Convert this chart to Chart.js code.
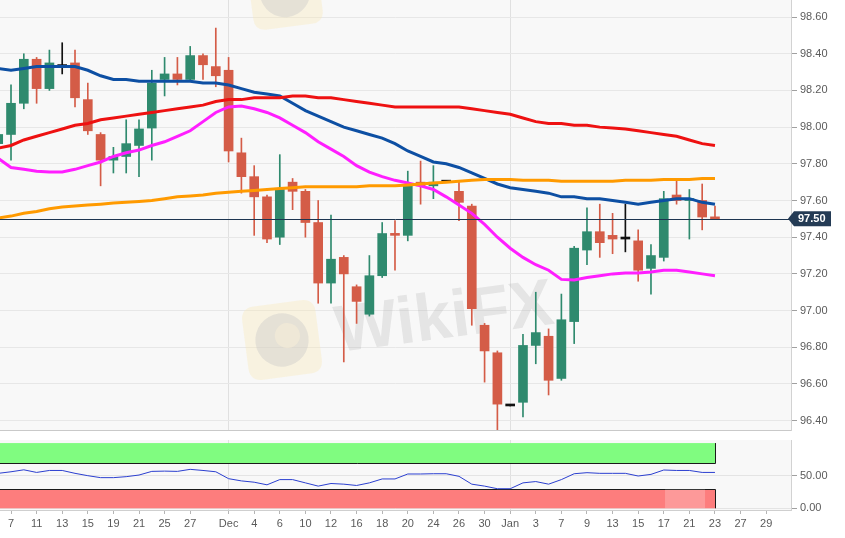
<!DOCTYPE html>
<html><head><meta charset="utf-8">
<script src="https://cdn.jsdelivr.net/npm/chart.js@4.4.1/dist/chart.umd.min.js"></script>
<style>
html,body{margin:0;padding:0;background:#fff;width:845px;height:538px;overflow:hidden}
#p1{position:absolute;left:0;top:0;width:845px;height:432px}
#p2{position:absolute;left:0;top:432px;width:845px;height:106px}
</style></head><body>
<div id="p1"><canvas id="c1"></canvas></div>
<div id="p2"><canvas id="c2"></canvas></div>
<script>
// ---------- DATA ----------
const dates = ['2019-11-06','2019-11-07','2019-11-08','2019-11-11','2019-11-12','2019-11-13','2019-11-14','2019-11-15',
'2019-11-18','2019-11-19','2019-11-20','2019-11-21','2019-11-22','2019-11-25','2019-11-26','2019-11-27','2019-11-28','2019-11-29',
'2019-12-02','2019-12-03','2019-12-04','2019-12-05','2019-12-06','2019-12-09','2019-12-10','2019-12-11','2019-12-12','2019-12-13',
'2019-12-16','2019-12-17','2019-12-18','2019-12-19','2019-12-20','2019-12-23','2019-12-24','2019-12-25','2019-12-26','2019-12-27',
'2019-12-30','2019-12-31','2020-01-01','2020-01-02','2020-01-03','2020-01-06','2020-01-07','2020-01-08','2020-01-09','2020-01-10',
'2020-01-13','2020-01-14','2020-01-15','2020-01-16','2020-01-17','2020-01-20','2020-01-21','2020-01-22','2020-01-23',
'2020-01-24','2020-01-27','2020-01-28','2020-01-29'];

const opens  = [97.91,97.96,98.13,98.37,98.21,98.33,98.35,98.15,97.96,97.82,97.84,97.90,97.995,98.26,98.29,98.26,98.39,98.33,98.31,97.86,97.73,97.62,97.40,97.70,97.65,97.48,97.15,97.29,97.13,96.98,97.19,97.42,97.41,97.70,97.68,97.70,97.65,97.57,96.92,96.77,96.48,96.50,96.81,96.86,96.63,96.94,97.33,97.43,97.41,97.39,97.38,97.23,97.29,97.63,97.60,97.60,97.51];
const highs  = [97.99,98.23,98.40,98.38,98.42,98.46,98.42,98.24,97.97,97.89,98.04,98.04,98.31,98.38,98.38,98.44,98.40,98.54,98.38,97.94,97.79,97.63,97.85,97.72,97.66,97.60,97.52,97.30,97.14,97.30,97.48,97.49,97.76,97.815,97.79,97.70,97.71,97.58,96.93,96.78,96.48,96.87,97.10,96.90,97.09,97.35,97.56,97.58,97.53,97.58,97.44,97.36,97.65,97.72,97.66,97.69,97.57];
const lows   = [97.88,97.82,98.10,98.13,98.20,98.29,98.11,97.96,97.68,97.75,97.75,97.73,97.82,98.17,98.23,98.25,98.26,98.22,97.81,97.64,97.41,97.37,97.36,97.55,97.40,97.04,97.04,96.72,96.93,96.97,97.18,97.22,97.38,97.58,97.61,97.70,97.49,96.92,96.61,96.35,96.48,96.42,96.71,96.54,96.62,96.82,97.25,97.29,97.31,97.32,97.16,97.09,97.27,97.58,97.39,97.44,97.50];
const closes = [97.96,98.13,98.37,98.21,98.35,98.33,98.16,97.98,97.82,97.84,97.91,97.99,98.24,98.29,98.26,98.39,98.34,98.28,97.87,97.73,97.62,97.39,97.66,97.65,97.48,97.15,97.28,97.20,97.05,97.19,97.42,97.41,97.68,97.68,97.70,97.70,97.59,97.01,96.78,96.49,96.48,96.81,96.88,96.62,96.95,97.34,97.43,97.37,97.39,97.39,97.22,97.30,97.61,97.60,97.61,97.51,97.50];

const ma20  = [97.83,97.78,97.77,97.76,97.755,97.755,97.77,97.79,97.81,97.84,97.86,97.875,97.90,97.92,97.95,97.98,98.03,98.08,98.11,98.115,98.10,98.08,98.05,98.01,97.97,97.92,97.88,97.84,97.79,97.755,97.73,97.71,97.695,97.68,97.66,97.62,97.575,97.53,97.47,97.40,97.34,97.29,97.25,97.22,97.17,97.167,97.18,97.19,97.20,97.205,97.205,97.21,97.22,97.22,97.21,97.20,97.19];
const ma50  = [98.32,98.31,98.32,98.33,98.33,98.33,98.33,98.31,98.28,98.26,98.26,98.25,98.25,98.25,98.25,98.25,98.24,98.24,98.23,98.21,98.19,98.18,98.17,98.13,98.09,98.06,98.03,98.00,97.98,97.96,97.94,97.91,97.87,97.84,97.81,97.80,97.78,97.75,97.72,97.69,97.67,97.66,97.65,97.64,97.62,97.62,97.61,97.61,97.60,97.59,97.58,97.59,97.60,97.61,97.61,97.59,97.58];
const ma100 = [97.886,97.90,97.93,97.95,97.97,97.99,98.01,98.02,98.04,98.05,98.06,98.07,98.08,98.09,98.10,98.11,98.12,98.14,98.15,98.15,98.16,98.16,98.16,98.17,98.17,98.16,98.16,98.15,98.14,98.13,98.12,98.11,98.11,98.11,98.11,98.11,98.11,98.10,98.09,98.08,98.07,98.05,98.03,98.02,98.02,98.01,98.01,98.00,97.995,97.99,97.98,97.97,97.96,97.95,97.93,97.91,97.90];
const ma200 = [97.505,97.515,97.53,97.54,97.555,97.565,97.57,97.575,97.58,97.586,97.59,97.595,97.60,97.61,97.62,97.625,97.63,97.64,97.645,97.65,97.655,97.66,97.665,97.67,97.675,97.675,97.675,97.675,97.675,97.68,97.68,97.68,97.685,97.69,97.695,97.70,97.705,97.71,97.715,97.715,97.715,97.71,97.71,97.71,97.705,97.705,97.705,97.705,97.705,97.71,97.71,97.71,97.715,97.715,97.715,97.72,97.72];
const rsi   = [53.6,56,59,55,58,58,53.6,50,47,47,48.5,51,56.6,57,56.6,59.7,58,56,45.4,42,40,36,44,44,39,34,38,37,35,39,45,45,52.6,52.6,53,53,49,37,34,30,30,39,41,37,44,53,54.6,53.6,53.6,53.6,49.5,52,58.7,58,58,55,55];

const priceTicks = [96.40,96.60,96.80,97.00,97.20,97.40,97.60,97.80,98.00,98.20,98.40,98.60];
const rsiTicks = [0, 50];
const rsiOverbought = 70, rsiOversold = 30, rsiTop = 100, rsiBottom = 0;
const tickDates = ['2019-11-07','2019-11-11','2019-11-13','2019-11-15','2019-11-19','2019-11-21','2019-11-25','2019-11-27',
'2019-12-02','2019-12-04','2019-12-06','2019-12-10','2019-12-12','2019-12-16','2019-12-18','2019-12-20','2019-12-24','2019-12-26','2019-12-30',
'2020-01-01','2020-01-03','2020-01-07','2020-01-09','2020-01-13','2020-01-15','2020-01-17','2020-01-21','2020-01-23','2020-01-27','2020-01-29'];
const tickLabels = ['7','11','13','15','19','21','25','27','Dec','4','6','10','12','16','18','20','24','26','30','Jan','3','7','9','13','15','17','21','23','27','29'];
const monthStarts = ['2019-12-02','2020-01-01'];

// ---------- VIEW ----------
const X_MIN = 0.14, X_MAX = 61.94;
const P_MIN = 96.349, P_MAX = 98.693;
const R_MIN = -2.6, R_MAX = 104.7;
const UP = '#2f8a6e', DOWN = '#d45c47', FLAT = '#111111';

Chart.defaults.font.family = "'Liberation Sans', Arial, sans-serif";
Chart.defaults.font.size = 11;
Chart.defaults.color = '#5a5a5a';

const candleColor = closes.map((c, i) => c > opens[i] ? UP : (c < opens[i] ? DOWN : FLAT));
const bodyData = closes.map((c, i) => ({x: i, y: [opens[i], c]}));
const wickData = closes.map((c, i) => ({x: i, y: [lows[i], highs[i]]}));
const lineData = arr => arr.map((v, i) => ({x: i, y: v}));
const monthIdx = monthStarts.map(d => dates.indexOf(d));
const tickIdx = tickDates.map(d => dates.indexOf(d));

const bgPlugin = {
  id: 'bg',
  beforeDraw(chart) {
    const {ctx, chartArea: a} = chart;
    ctx.save(); ctx.fillStyle = '#f8f8f8';
    ctx.fillRect(a.left, a.top, a.right - a.left, a.bottom - a.top);
    ctx.restore();
  }
};

function drawLogo(ctx, cx, cy, s, rot) {
  ctx.save();
  ctx.translate(cx, cy); ctx.rotate(rot);
  ctx.fillStyle = 'rgba(250,232,180,0.35)';
  const r = s * 0.18;
  ctx.beginPath();
  ctx.moveTo(-s/2 + r, -s/2); ctx.lineTo(s/2 - r, -s/2); ctx.quadraticCurveTo(s/2, -s/2, s/2, -s/2 + r);
  ctx.lineTo(s/2, s/2 - r); ctx.quadraticCurveTo(s/2, s/2, s/2 - r, s/2);
  ctx.lineTo(-s/2 + r, s/2); ctx.quadraticCurveTo(-s/2, s/2, -s/2, s/2 - r);
  ctx.lineTo(-s/2, -s/2 + r); ctx.quadraticCurveTo(-s/2, -s/2, -s/2 + r, -s/2);
  ctx.fill();
  ctx.fillStyle = 'rgba(200,200,200,0.4)';
  ctx.beginPath(); ctx.arc(0, 0, s * 0.36, 0, Math.PI * 2); ctx.fill();
  ctx.fillStyle = 'rgba(250,240,215,0.5)';
  ctx.beginPath(); ctx.arc(s*0.08, -s*0.05, s * 0.17, 0, Math.PI * 2); ctx.fill();
  ctx.restore();
}

const watermarkPlugin = {
  id: 'wm',
  beforeDatasetsDraw(chart) {
    const ctx = chart.ctx;
    drawLogo(ctx, 282, 340, 74, -0.13);
    drawLogo(ctx, 285, -8, 70, -0.13);
    ctx.save();
    ctx.translate(338, 352); ctx.rotate(-0.13);
    ctx.font = "bold 66px 'Liberation Sans', Arial, sans-serif";
    ctx.fillStyle = 'rgba(170,170,170,0.25)';
    ctx.fillText('WikiFX', 0, 0);
    ctx.restore();
  }
};

const priceLinePlugin = {
  id: 'pl',
  afterDatasetsDraw(chart) {
    const {ctx, chartArea: a, scales: {y}} = chart;
    const py = Math.round(y.getPixelForValue(closes[closes.length - 1])) + 0.5;
    ctx.save();
    ctx.strokeStyle = '#1d3550'; ctx.lineWidth = 1;
    ctx.beginPath(); ctx.moveTo(a.left, py); ctx.lineTo(a.right, py); ctx.stroke();
    ctx.restore();
  },
  afterDraw(chart) {
    const {ctx, chartArea: a, scales: {y}} = chart;
    const py = y.getPixelForValue(closes[closes.length - 1]);
    ctx.save();
    ctx.fillStyle = '#243b55';
    ctx.beginPath();
    ctx.moveTo(a.right - 3, py);
    ctx.lineTo(a.right + 3, py - 7.5);
    ctx.lineTo(a.right + 40, py - 7.5);
    ctx.lineTo(a.right + 40, py + 7.5);
    ctx.lineTo(a.right + 3, py + 7.5);
    ctx.closePath(); ctx.fill();
    ctx.fillStyle = '#ffffff';
    ctx.font = "bold 11px 'Liberation Sans', Arial, sans-serif";
    ctx.textBaseline = 'middle'; ctx.textAlign = 'left';
    ctx.fillText(closes[closes.length - 1].toFixed(2), a.right + 7, py + 0.5);
    ctx.restore();
  }
};

const bandPlugin = {
  id: 'bands',
  beforeDatasetsDraw(chart) {
    const {ctx, chartArea: a, scales: {x, y}} = chart;
    const xr = Math.round(x.getPixelForValue(closes.length - 1)) + 0.5;
    const yTop = y.getPixelForValue(rsiTop), yOb = Math.round(y.getPixelForValue(rsiOverbought)) + 0.5;
    const yOs = Math.round(y.getPixelForValue(rsiOversold)) + 0.5, yBot = y.getPixelForValue(rsiBottom);
    ctx.save();
    ctx.fillStyle = '#80fc80';
    ctx.fillRect(a.left, yTop, xr - a.left, yOb - yTop);
    ctx.fillStyle = '#fd7d7d';
    ctx.fillRect(a.left, yOs, xr - a.left, yBot - yOs);
    ctx.strokeStyle = '#1a1a1a'; ctx.lineWidth = 1;
    ctx.beginPath();
    ctx.moveTo(a.left, yOb); ctx.lineTo(xr, yOb); ctx.lineTo(xr, yTop);
    ctx.moveTo(a.left, yOs); ctx.lineTo(xr, yOs); ctx.lineTo(xr, yBot);
    ctx.stroke();
    ctx.fillStyle = 'rgba(255,255,255,0.22)';
    ctx.fillRect(x.getPixelForValue(52.1), y.getPixelForValue(29), 40, y.getPixelForValue(0) - y.getPixelForValue(29));
    ctx.restore();
  }
};

const fitY = s => { s.width = 54; s.paddingTop = 0; s.paddingBottom = 0; };

new Chart(document.getElementById('c1'), {
  data: {
    datasets: [
      {type: 'line', data: lineData(ma200), borderColor: '#ff9a00', borderWidth: 3, pointRadius: 0, order: 0},
      {type: 'line', data: lineData(ma100), borderColor: '#ee1111', borderWidth: 3, pointRadius: 0, order: 0},
      {type: 'line', data: lineData(ma50), borderColor: '#0d4fa3', borderWidth: 3, pointRadius: 0, order: 0},
      {type: 'line', data: lineData(ma20), borderColor: '#ff1eff', borderWidth: 3, pointRadius: 0, order: 0},
      {type: 'bar', data: bodyData, backgroundColor: candleColor, barThickness: 9, minBarLength: 2, grouped: false, order: 2},
      {type: 'bar', data: wickData, backgroundColor: candleColor, barThickness: 1, grouped: false, order: 3}
    ]
  },
  options: {
    responsive: true, maintainAspectRatio: false, animation: false,
    layout: {padding: 0},
    plugins: {legend: {display: false}, tooltip: {enabled: false}},
    scales: {
      x: {type: 'linear', min: X_MIN, max: X_MAX, offset: false,
        afterBuildTicks: s => { s.ticks = monthIdx.map(v => ({value: v})); },
        ticks: {display: false},
        grid: {color: '#e0e0e0', drawTicks: false, offset: false},
        border: {display: true, color: '#c9c9c9'},
        afterFit: s => { s.height = 2; s.paddingLeft = 0; s.paddingRight = 0; }
      },
      y: {position: 'right', min: P_MIN, max: P_MAX,
        afterBuildTicks: s => { s.ticks = priceTicks.map(v => ({value: v})); },
        ticks: {callback: v => Number(v).toFixed(2), padding: 3, color: '#5a5a5a'},
        grid: {color: '#e7e7e7', tickLength: 6, tickColor: '#a0a0a0'},
        border: {display: true, color: '#d2d2d2'},
        afterFit: fitY
      }
    }
  },
  plugins: [bgPlugin, watermarkPlugin, priceLinePlugin]
});

new Chart(document.getElementById('c2'), {
  data: {
    datasets: [
      {type: 'line', data: lineData(rsi), borderColor: '#2b3fd0', borderWidth: 1, pointRadius: 0}
    ]
  },
  options: {
    responsive: true, maintainAspectRatio: false, animation: false,
    layout: {padding: {top: 8, left: 0, right: 0, bottom: 0}},
    plugins: {legend: {display: false}, tooltip: {enabled: false}},
    scales: {
      x: {type: 'linear', min: X_MIN, max: X_MAX, offset: false,
        afterBuildTicks: s => { s.ticks = tickIdx.map(v => ({value: v})); },
        ticks: {callback: (v, i) => tickLabels[i], autoSkip: false, maxRotation: 0, padding: 3, color: '#5a5a5a'},
        grid: {color: c => (c.tick && monthIdx.includes(c.tick.value)) ? '#e0e0e0' : 'rgba(0,0,0,0)', tickLength: 4, tickColor: '#b5b5b5'},
        border: {display: true, color: '#cfcfcf'},
        afterFit: s => { s.height = 28; s.paddingLeft = 0; s.paddingRight = 0; }
      },
      y: {position: 'right', min: R_MIN, max: R_MAX,
        afterBuildTicks: s => { s.ticks = rsiTicks.map(v => ({value: v})); },
        ticks: {callback: v => Number(v).toFixed(2), padding: 3, color: '#5a5a5a'},
        grid: {color: '#e4e4e4', tickLength: 6, tickColor: '#a0a0a0'},
        border: {display: true, color: '#d2d2d2'},
        afterFit: fitY
      }
    }
  },
  plugins: [bgPlugin, bandPlugin]
});
</script>
</body></html>
